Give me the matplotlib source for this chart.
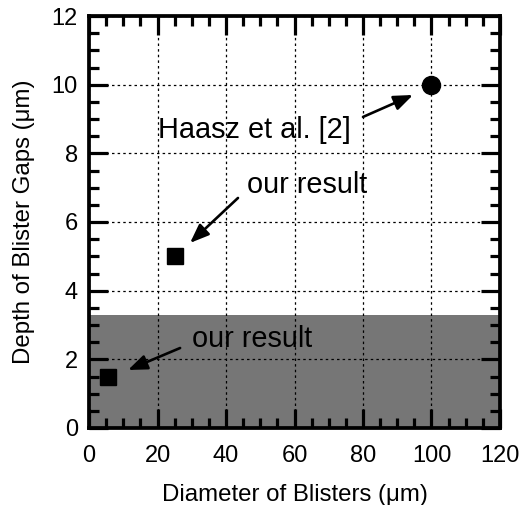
import matplotlib
matplotlib.use("Agg")
import matplotlib.pyplot as plt
from matplotlib.ticker import MultipleLocator

plt.rcParams['font.family'] = ['Liberation Sans', 'DejaVu Sans']

# data
our_x = [5.5, 25]
our_y = [1.5, 5]
haasz_x = [100]
haasz_y = [10]
shade_top = 3.3
x_label = "Diameter of Blisters (\u03bcm)"
y_label = "Depth of Blister Gaps (\u03bcm)"

fig = plt.figure(figsize=(5.2, 5.05), dpi=100)
ax = fig.add_axes([89/520, 1-428/505, 411/520, 412/505])

ax.axhspan(0, shade_top, color='#767676', zorder=0.2, lw=0)
ax.set_axisbelow(True)
ax.grid(True, which='major', color='black', linestyle=(0, (2, 2.5)), linewidth=0.9)

ax.plot(our_x, our_y, 's', color='black', markersize=11, zorder=5)
ax.plot(haasz_x, haasz_y, 'o', color='black', markersize=13, zorder=5)

ax.set_xlim(0, 120)
ax.set_ylim(0, 12)
ax.xaxis.set_major_locator(MultipleLocator(20))
ax.xaxis.set_minor_locator(MultipleLocator(5))
ax.yaxis.set_major_locator(MultipleLocator(2))
ax.yaxis.set_minor_locator(MultipleLocator(0.5))
ax.tick_params(which='both', direction='in', top=True, right=True, width=2.3, labelsize=17)
ax.tick_params(which='major', length=13.5)
ax.tick_params(which='minor', length=7.5)
ax.tick_params(axis='x', pad=12.5)
ax.tick_params(axis='y', pad=8)
for s in ax.spines.values():
    s.set_linewidth(2.7)

ax.set_xlabel(x_label, fontsize=17.3, labelpad=12)
ax.set_ylabel(y_label, fontsize=17.3, labelpad=12)

arrow = dict(arrowstyle='-|>,head_length=1.15,head_width=0.45', color='black', lw=1.9, shrinkA=0, shrinkB=0)
ax.text(20.1, 8.45, "Haasz et al. [2]", fontsize=20.8, ha='left', va='baseline')
ax.annotate('', xy=(94.6, 9.70), xytext=(80.0, 9.06), arrowprops=arrow)
ax.text(46.1, 6.85, "our result", fontsize=20.8, ha='left', va='baseline')
ax.annotate('', xy=(29.5, 5.39), xytext=(43.5, 6.70), arrowprops=arrow)
ax.text(30.1, 2.36, "our result", fontsize=20.8, ha='left', va='baseline')
ax.annotate('', xy=(11.4, 1.69), xytext=(26.6, 2.33), arrowprops=arrow)

fig.savefig("out.png", dpi=100)
